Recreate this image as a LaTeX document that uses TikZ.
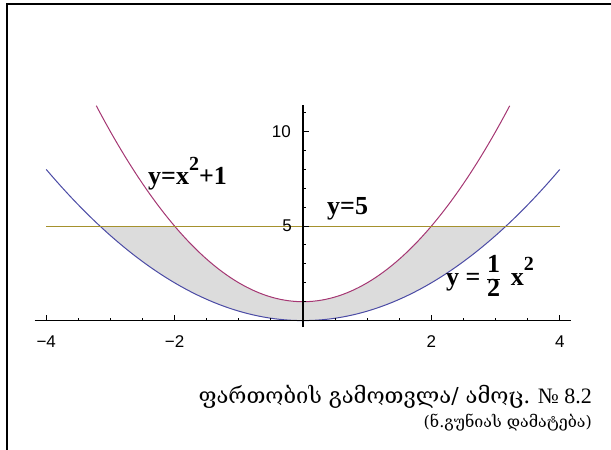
\documentclass[tikz,border=0pt]{standalone}
\usepackage{fontspec}
\setmainfont{Liberation Serif}
\newfontfamily\geofont{DejaVu Serif}
\newfontfamily\tickfont{Liberation Sans}
\usetikzlibrary{positioning}

\definecolor{redcurve}{RGB}{165,55,115}
\definecolor{bluecurve}{RGB}{75,75,165}
\definecolor{linefive}{RGB}{165,145,45}
\definecolor{areagray}{RGB}{220,220,220}

\newcommand{\bigsup}[1]{\raisebox{0.55em}{\fontsize{20}{20}\selectfont #1}}

\begin{document}
\begin{tikzpicture}[x=1pt,y=1pt,
		ticklbl/.style={font=\tickfont\fontsize{17}{19}\selectfont, inner sep=1pt},
		curvelbl/.style={font=\bfseries\fontsize{26}{28}\selectfont, inner sep=0pt, anchor=west},
		parab/.style={line width=1pt},
		]
	\useasboundingbox (0,0) rectangle (611,450);
	
	%% ── frame (top and left only) ──────────────────────────────────────────
	\draw[line width=2pt] (611,445.5) -- (6.7,445.5) -- (6.7,0);
	
	%% ── plot ────────────────────────────────────────────────────────────────
	\begin{scope}[shift={(303,129.4)}, x=64.2pt, y=18.9pt]
		% shaded area between the curves, below y=5
		\fill[areagray] (-3.1623,5) -- (-2,5)
			-- plot[domain=-2:2, samples=60] (\x,{\x*\x+1})
			-- (3.1623,5)
			-- plot[domain=3.1623:-3.1623, samples=80] (\x,{0.5*\x*\x}) -- cycle;
		
		\draw[parab, redcurve]  plot[domain=-3.22:3.22, samples=100] (\x,{\x*\x+1});
		\draw[parab, bluecurve] plot[domain=-4:4, samples=100] (\x,{0.5*\x*\x});
		\draw[parab, linefive] (-4,5) -- (4,5);
		
		% axes
		\draw[line width=1.4pt] (-4.18,0) -- (4.17,0);
		\draw[line width=1.4pt] (0,-0.34) -- (0,11.4);
		
		\foreach \t in {-3.5,-3,-2.5,-1.5,-1,-0.5,0.5,1,1.5,2.5,3,3.5}
			\draw[line width=1pt] (\t,0) -- ++(0,3pt);
		\foreach \t in {-4,-2,2,4}
			\draw[line width=1pt] (\t,0) -- ++(0,5.5pt);
		\foreach \t in {1,2,3,4,6,7,8,9,11}
			\draw[line width=1pt] (0,\t) -- ++(3pt,0);
		\foreach \t in {5,10}
			\draw[line width=1pt] (0,\t) -- ++(6pt,0);
		
		\node[ticklbl, anchor=east] (yl10) at ([xshift=-11pt]0,10) {10};
		\node[ticklbl, anchor=east] (yl5)  at ([xshift=-10pt]0,5)  {5};
		\node[ticklbl] (xlm4) at ([yshift=-21pt]-4,0) {\char"2212 4};
		\node[ticklbl] (xlm2) at ([yshift=-21pt]-2,0) {\char"2212 2};
		\node[ticklbl] (xl2)  at ([yshift=-21pt]2,0)  {2};
		\node[ticklbl] (xl4)  at ([yshift=-21pt]4,0)  {4};
	\end{scope}
	
	%% ── curve labels ────────────────────────────────────────────────────────
	\node[curvelbl] (lblred)  at (148,276) {y=x\bigsup{2}+1};
	\node[curvelbl] (lblfive) at (327,241) {y=5};
	\node[curvelbl] (lblblue) at (446,171) {y = {\renewcommand\arraystretch{0.8}\begin{tabular}{@{}c@{}}1\\\hline 2\end{tabular}}\, x\bigsup{2}};
	
	%% ── caption ─────────────────────────────────────────────────────────────
	\node[anchor=east, inner sep=0pt, font=\fontsize{22}{24}\selectfont] (capt)
		at (592,53) {{\geofont ფართობის გამოთვლა/ ამოც.} № 8.2};
	\node[anchor=east, inner sep=0pt, font=\fontsize{16}{18}\selectfont] (capt2)
		at (592,27) {{\geofont (ნ.გუნიას დამატება)}};
\end{tikzpicture}
\end{document}
